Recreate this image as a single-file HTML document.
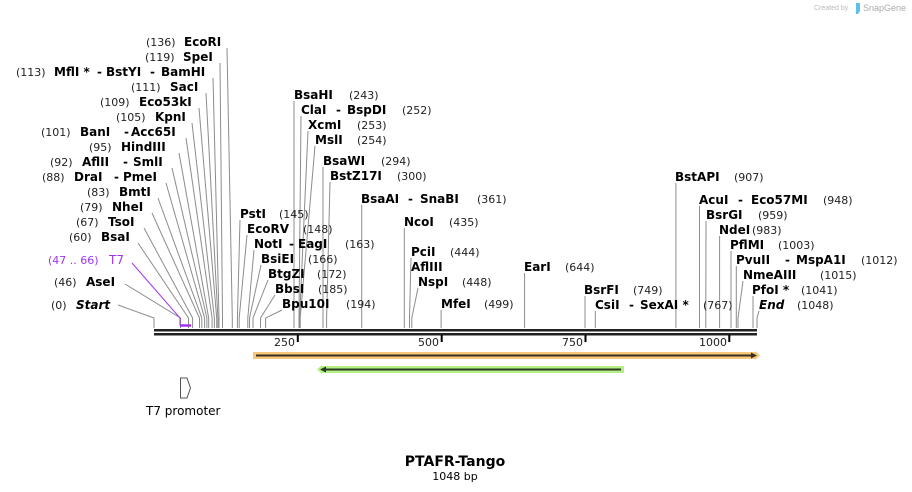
<!DOCTYPE html>
<html><head><meta charset="utf-8"><style>
html,body{margin:0;padding:0;background:#fff;}
svg{display:block}
.n{font:bold 12px "DejaVu Sans","Liberation Sans",sans-serif;fill:#000}
.i{font:italic bold 12px "DejaVu Sans","Liberation Sans",sans-serif;fill:#000}
.p{font:11px "DejaVu Sans","Liberation Sans",sans-serif;fill:#222}
.l{stroke:#8c8c8c;stroke-width:1;fill:none}
</style></head><body>
<svg width="912" height="492" viewBox="0 0 912 492" xmlns="http://www.w3.org/2000/svg">
<text x="814" y="10" font-family="Liberation Sans,sans-serif" font-size="7" fill="#bbb">Created by</text>
<path d="M856 3 h4 v8 l-2 3 h-2 z" fill="#5bc0eb"/>
<text x="863" y="11" font-family="Liberation Sans,sans-serif" font-size="9" fill="#aaa">SnapGene</text>

<!-- left leader lines -->
<g class="l">
<path d="M227 48 L232.3 318 V328"/>
<path d="M220 63 L222.5 318 V328"/>
<path d="M213 78 L219 318 V328"/>
<path d="M206 93 L217.9 318 V328"/>
<path d="M199 108 L216.7 318 V328"/>
<path d="M192 123 L214.4 318 V328"/>
<path d="M186 138 L212.1 318 V328"/>
<path d="M179 153 L208.7 318 V328"/>
<path d="M172 168 L206.9 318 V328"/>
<path d="M166 183 L204.6 318 V328"/>
<path d="M158 198 L201.8 318 V328"/>
<path d="M152 213 L199.5 318 V328"/>
<path d="M144 228 L192.6 318 V328"/>
<path d="M138 243 L188.5 318 V328"/>
<path d="M125 284 L180.5 318 V328"/>
<path d="M118 305 L154 318 V328"/>
<!-- middle -->
<path d="M294 101 V328"/>
<path d="M301 116 L299 318 V328"/>
<path d="M308 131 L299.6 318 V328"/>
<path d="M315 146 L300.2 318 V328"/>
<path d="M323 167 V328"/>
<path d="M330 182 L326.6 318 V328"/>
<path d="M361.7 205 V328"/>
<path d="M404.3 228 V328"/>
<path d="M240 220 L237.4 318 V328"/>
<path d="M247 235 L239.2 318 V328"/>
<path d="M254 250 L247.8 318 V328"/>
<path d="M261 265 L249.5 318 V328"/>
<path d="M268 280 L253 318 V328"/>
<path d="M275 295 L260.5 318 V328"/>
<path d="M282 310 L265.6 318 V328"/>
<path d="M411 258 L409.5 318 V328"/>
<path d="M418 288 L411.8 318 V328"/>
<path d="M441.1 310 V328"/>
<path d="M524.6 273 V328"/>
<path d="M675.9 183 V328"/>
<path d="M699.5 206 V328"/>
<path d="M706 221 L705.8 318 V328"/>
<path d="M719.6 236 V328"/>
<path d="M731 251 V328"/>
<path d="M736.3 266 V328"/>
<path d="M743 281 L738 318 V328"/>
<path d="M753 296 V328"/>
<path d="M759 311 L757 318 V328"/>
<path d="M585 296 V328"/>
<path d="M595.3 311 V328"/>
</g>
<!-- T7 purple -->
<path d="M132 263 L180 318 V325 H191" stroke="#a035f0" stroke-width="1" fill="none"/>
<path d="M180 325.5 H191" stroke="#a035f0" stroke-width="2.5"/>

<!-- backbone -->
<rect x="154" y="329" width="603" height="2.5" fill="#222"/>
<rect x="154" y="333" width="603" height="2.5" fill="#222"/>
<g stroke="#000" stroke-width="2">
<line x1="297.8" y1="335" x2="297.8" y2="342"/>
<line x1="441.7" y1="335" x2="441.7" y2="342"/>
<line x1="585.5" y1="335" x2="585.5" y2="342"/>
<line x1="729.3" y1="335" x2="729.3" y2="342"/>
</g>
<g class="p" text-anchor="end">
<text x="295" y="346">250</text><text x="439" y="346">500</text>
<text x="583" y="346">750</text><text x="727" y="346">1000</text>
</g>

<!-- features -->
<rect x="253" y="352" width="502" height="7" fill="#f8c77a"/>
<path d="M755 351 L760 355.5 L755 360 Z" fill="#f8c77a"/>
<line x1="256" y1="355.5" x2="753" y2="355.5" stroke="#3a3020" stroke-width="2"/>
<path d="M751 352.5 L757 355.5 L751 358.5 Z" fill="#3a3020"/>
<rect x="322" y="366" width="302" height="7" fill="#b6ee86"/>
<path d="M322 365 L317 369.5 L322 374 Z" fill="#b6ee86"/>
<line x1="324" y1="369.5" x2="621" y2="369.5" stroke="#2a3a20" stroke-width="2"/>
<path d="M326 366.5 L320 369.5 L326 372.5 Z" fill="#2a3a20"/>
<path d="M180.5 378 H187 L190.5 388 L187 398 H180.5 Z" fill="#fff" stroke="#555" stroke-width="1"/>
<text x="146" y="415" font-family="DejaVu Sans,Liberation Sans,sans-serif" font-size="12" fill="#000">T7 promoter</text>

<!-- left labels -->
<text class="p" x="146" y="46">(136)</text><text class="n" x="184" y="46">EcoRI</text>
<text class="p" x="145" y="61">(119)</text><text class="n" x="183" y="61">SpeI</text>
<text class="p" x="16" y="76">(113)</text><text class="n" x="54" y="76">MflI *<tspan x="97">-</tspan><tspan x="106">BstYI</tspan><tspan x="150">-</tspan><tspan x="161">BamHI</tspan></text>
<text class="p" x="131" y="91">(111)</text><text class="n" x="170" y="91">SacI</text>
<text class="p" x="100" y="106">(109)</text><text class="n" x="139" y="106">Eco53kI</text>
<text class="p" x="116" y="121">(105)</text><text class="n" x="155" y="121">KpnI</text>
<text class="p" x="41" y="136">(101)</text><text class="n" x="80" y="136">BanI<tspan x="124">-</tspan><tspan x="131">Acc65I</tspan></text>
<text class="p" x="89" y="151">(95)</text><text class="n" x="121" y="151">HindIII</text>
<text class="p" x="50" y="166">(92)</text><text class="n" x="82" y="166">AflII<tspan x="123">-</tspan><tspan x="133">SmlI</tspan></text>
<text class="p" x="42" y="181">(88)</text><text class="n" x="74" y="181">DraI<tspan x="114">-</tspan><tspan x="123">PmeI</tspan></text>
<text class="p" x="87" y="196">(83)</text><text class="n" x="119" y="196">BmtI</text>
<text class="p" x="80" y="211">(79)</text><text class="n" x="112" y="211">NheI</text>
<text class="p" x="76" y="226">(67)</text><text class="n" x="108" y="226">TsoI</text>
<text class="p" x="69" y="241">(60)</text><text class="n" x="101" y="241">BsaI</text>
<text x="48" y="264" font-family="DejaVu Sans,Liberation Sans,sans-serif" font-size="11" fill="#a035f0">(47 .. 66)</text>
<text x="109" y="264" font-family="DejaVu Sans,Liberation Sans,sans-serif" font-size="12" fill="#a035f0">T7</text>
<text class="p" x="54" y="286">(46)</text><text class="n" x="86" y="286">AseI</text>
<text class="p" x="51" y="309">(0)</text><text class="i" x="76" y="309">Start</text>

<!-- middle labels -->
<text class="n" x="294" y="99">BsaHI</text><text class="p" x="349" y="99">(243)</text>
<text class="n" x="301" y="114">ClaI<tspan x="336">-</tspan><tspan x="347">BspDI</tspan></text><text class="p" x="402" y="114">(252)</text>
<text class="n" x="308" y="129">XcmI</text><text class="p" x="357" y="129">(253)</text>
<text class="n" x="315" y="144">MslI</text><text class="p" x="357" y="144">(254)</text>
<text class="n" x="323" y="165">BsaWI</text><text class="p" x="381" y="165">(294)</text>
<text class="n" x="330" y="180">BstZ17I</text><text class="p" x="397" y="180">(300)</text>
<text class="n" x="361" y="203">BsaAI<tspan x="408">-</tspan><tspan x="420">SnaBI</tspan></text><text class="p" x="477" y="203">(361)</text>
<text class="n" x="404" y="226">NcoI</text><text class="p" x="449" y="226">(435)</text>
<text class="n" x="240" y="218">PstI</text><text class="p" x="279" y="218">(145)</text>
<text class="n" x="247" y="233">EcoRV</text><text class="p" x="303" y="233">(148)</text>
<text class="n" x="254" y="248">NotI<tspan x="289">-</tspan><tspan x="298">EagI</tspan></text><text class="p" x="345" y="248">(163)</text>
<text class="n" x="261" y="263">BsiEI</text><text class="p" x="308" y="263">(166)</text>
<text class="n" x="268" y="278">BtgZI</text><text class="p" x="317" y="278">(172)</text>
<text class="n" x="275" y="293">BbsI</text><text class="p" x="318" y="293">(185)</text>
<text class="n" x="282" y="308">Bpu10I</text><text class="p" x="346" y="308">(194)</text>
<text class="n" x="411" y="256">PciI</text><text class="p" x="450" y="256">(444)</text>
<text class="n" x="411" y="271">AflIII</text>
<text class="n" x="418" y="286">NspI</text><text class="p" x="462" y="286">(448)</text>
<text class="n" x="441" y="308">MfeI</text><text class="p" x="484" y="308">(499)</text>
<text class="n" x="524" y="271">EarI</text><text class="p" x="565" y="271">(644)</text>

<!-- right labels -->
<text class="n" x="675" y="181">BstAPI</text><text class="p" x="734" y="181">(907)</text>
<text class="n" x="699" y="204">AcuI<tspan x="738">-</tspan><tspan x="751">Eco57MI</tspan></text><text class="p" x="823" y="204">(948)</text>
<text class="n" x="706" y="219">BsrGI</text><text class="p" x="758" y="219">(959)</text>
<text class="n" x="719" y="234">NdeI</text><text class="p" x="752" y="234">(983)</text>
<text class="n" x="730" y="249">PflMI</text><text class="p" x="778" y="249">(1003)</text>
<text class="n" x="736" y="264">PvuII<tspan x="785">-</tspan><tspan x="796">MspA1I</tspan></text><text class="p" x="861" y="264">(1012)</text>
<text class="n" x="743" y="279">NmeAIII</text><text class="p" x="820" y="279">(1015)</text>
<text class="n" x="752" y="294">PfoI *</text><text class="p" x="801" y="294">(1041)</text>
<text class="i" x="759" y="309">End</text><text class="p" x="797" y="309">(1048)</text>
<text class="n" x="584" y="294">BsrFI</text><text class="p" x="633" y="294">(749)</text>
<text class="n" x="595" y="309">CsiI<tspan x="629">-</tspan><tspan x="640">SexAI *</tspan></text><text class="p" x="703" y="309">(767)</text>

<text x="455" y="466" text-anchor="middle" font-family="DejaVu Sans,Liberation Sans,sans-serif" font-weight="bold" font-size="14" fill="#000">PTAFR-Tango</text>
<text x="455" y="480" text-anchor="middle" font-family="DejaVu Sans,Liberation Sans,sans-serif" font-size="11" fill="#000">1048 bp</text>
</svg>
</body></html>
